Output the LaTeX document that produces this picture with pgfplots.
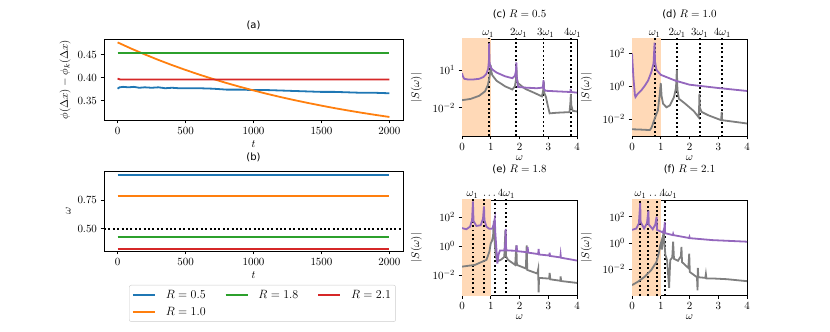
\documentclass[border=0pt]{standalone}
\usepackage{pgfplots}
\pgfplotsset{compat=1.18}
\usepackage{fontspec}
\setmainfont{DejaVu Sans}
\definecolor{tabblue}{HTML}{1F77B4}
\definecolor{taborange}{HTML}{FF7F0E}
\definecolor{tabgreen}{HTML}{2CA02C}
\definecolor{tabred}{HTML}{D62728}
\definecolor{tabpurple}{HTML}{9467BD}
\definecolor{tabgray}{HTML}{7F7F7F}
\colorlet{shade}{taborange!30!white}
\newcommand{\mf}{\fontsize{11.3}{13}\selectfont}
\pgfplotsset{
  base/.style={scale only axis, anchor=south west,
    axis line style={line width=0.8pt}, every tick/.style={line width=0.8pt, black},
    major tick length=3.5pt, minor tick length=0pt, tick align=outside, xtick pos=bottom, ytick pos=left,
    every tick label/.append style={font=\mf},
    label style={font=\mf},
    title style={font=\fontsize{10}{12}\selectfont},
    /pgf/number format/1000 sep={}, scaled ticks=false},
  spec/.style={base, width=115pt, xmin=0, xmax=4, xtick={0,1,2,3,4},
    xlabel={$\omega$}, ylabel={$|S(\omega)|$},
    xlabel style={yshift=1pt}, ylabel style={yshift=4pt}},
  topl/.style={scale only axis, anchor=south west, width=115pt, xmin=0, xmax=4, ymin=0, ymax=1,
    axis x line*=top, axis y line=none, axis line style={draw=none}, major tick length=0pt,
    every tick label/.append style={font=\mf, inner sep=1.5pt}},
  dl/.style={black, line width=1.9pt, dash pattern=on 1.9pt off 2.5pt},
  ln/.style={line width=1.8pt},
}
\begin{document}
\begin{tikzpicture}[font=\fontsize{10}{12}\selectfont]
% ---------------- (a)
\begin{axis}[base, at={(104pt,212pt)}, width=299pt, height=81pt,
  xmin=-100, xmax=2100, ymin=0.3077, ymax=0.4844,
  xtick={0,500,1000,1500,2000}, ytick={0.35,0.40,0.45},
  yticklabel style={/pgf/number format/.cd, fixed, fixed zerofill, precision=2},
  xlabel={$t$}, ylabel={$\phi(\Delta x)-\phi_k(\Delta x)$}, title={(a)}]
\addplot[ln, tabblue] coordinates {(0,0.376) (15,0.379) (40,0.380) (80,0.379) (120,0.380) (160,0.378) (200,0.379) (250,0.378) (300,0.379) (350,0.377) (400,0.378) (450,0.377) (500,0.377) (600,0.377) (700,0.376) (750,0.375) (800,0.374) (900,0.374) (1000,0.373) (1100,0.373) (1200,0.372) (1300,0.371) (1400,0.370) (1500,0.369) (1600,0.369) (1700,0.368) (1800,0.367) (1900,0.367) (2000,0.366)};
\addplot[ln, taborange] coordinates {(0,0.477) (100,0.4635) (200,0.4508) (300,0.4388) (400,0.4275) (500,0.4169) (600,0.4068) (700,0.3974) (800,0.3885) (900,0.3801) (1000,0.3722) (1100,0.3647) (1200,0.3577) (1300,0.3511) (1400,0.3449) (1500,0.3390) (1600,0.3334) (1700,0.3282) (1800,0.3233) (1900,0.3187) (2000,0.3143)};
\addplot[ln, tabgreen] coordinates {(0,0.453) (2000,0.453)};
\addplot[ln, tabred] coordinates {(0,0.398) (20,0.396) (2000,0.396)};
\end{axis}
% ---------------- (b)
\begin{axis}[base, at={(104pt,81pt)}, width=299pt, height=80pt,
  xmin=-100, xmax=2100, ymin=0.304, ymax=1.008,
  xtick={0,500,1000,1500,2000}, ytick={0.50,0.75},
  yticklabel style={/pgf/number format/.cd, fixed, fixed zerofill, precision=2},
  xlabel={$t$}, ylabel={$\omega$}, title={(b)},
  legend columns=3, legend cell align=left,
  legend image code/.code={\draw[#1] (0pt,0pt) -- (22pt,0pt);},
  legend style={at={(0.53,-0.425)}, anchor=north, draw=black!20, rounded corners=2pt,
    fill=white, inner xsep=2.7pt, inner ysep=3pt,
    font=\fontsize{11.5}{13}\selectfont, row sep=3pt,
    nodes={inner sep=2pt},
    /tikz/every odd column/.append style={column sep=8pt},
    /tikz/every even column/.append style={column sep=17pt}}]
\addplot[black, line width=1.9pt, dash pattern=on 1.9pt off 2.5pt, forget plot] coordinates {(-100,0.5) (2100,0.5)};
\addplot[ln, tabblue] coordinates {(0,0.973) (2000,0.973)};
\addlegendentry{$R=0.5$}
\addplot[ln, tabgreen] coordinates {(0,0.426) (2000,0.426)};
\addlegendentry{$R=1.8$}
\addplot[ln, tabred] coordinates {(0,0.324) (2000,0.324)};
\addlegendentry{$R=2.1$}
\addplot[ln, taborange] coordinates {(0,0.788) (2000,0.788)};
\addlegendentry{$R=1.0$}
\end{axis}
% ---------------- (c)
\begin{axis}[spec, ymode=log, at={(462pt,196pt)}, height=97pt, ymin=5.6e-5, ymax=2.95e3,
  ytick={1e-2,1e1}, title={(c) {\mf$R=0.5$}}, title style={yshift=11pt}]
\addplot[fill=shade, draw=none] coordinates {(0,1e-6) (1,1e-6) (1,1e5) (0,1e5)} -- cycle;
\addplot[dl] coordinates {(0.945,1e-6) (0.945,1e5)};
\addplot[dl] coordinates {(1.89,1e-6) (1.89,1e5)};
\addplot[dl] coordinates {(2.835,1e-6) (2.835,1e5)};
\addplot[dl] coordinates {(3.78,1e-6) (3.78,1e5)};
\addplot[ln, tabgray] coordinates {(0,3.98e-2) (0.3,5.01e-2) (0.6,8.91e-2) (0.8,2.00e-1) (0.9,6.31e-1) (0.96,3.16e0) (0.99,1.00e1) (1.0,2.51e1) (1.01,1.00e1) (1.05,3.98e0) (1.2,1.41e0) (1.5,5.01e-1) (1.75,2.82e-1) (1.84,5.01e-1) (1.88,2.00e0) (1.895,1.58e1) (1.91,2.00e0) (1.95,8.91e-1) (2.2,3.16e-1) (2.5,1.58e-1) (2.78,7.94e-2) (2.825,2.51e-1) (2.845,1.26e0) (2.86,1.58e-1) (2.92,7.08e-2) (2.98,1.58e-2) (3.05,3.55e-3) (3.3,3.98e-3) (3.74,4.47e-3) (3.77,2.51e-2) (3.785,1.26e-1) (3.80,1.58e-2) (3.85,5.62e-3) (4.0,5.01e-3)};
\addplot[ln, tabpurple] coordinates {(0,5.62e0) (0.03,3.16e0) (0.08,2.00e0) (0.2,1.78e0) (0.4,1.78e0) (0.6,2.00e0) (0.75,2.82e0) (0.85,5.01e0) (0.91,1.26e1) (0.935,5.01e1) (0.945,1.41e3) (0.955,5.01e1) (0.98,2.00e1) (1.05,1.12e1) (1.2,6.31e0) (1.5,3.16e0) (1.75,2.24e0) (1.84,3.55e0) (1.875,7.94e0) (1.89,3.98e1) (1.90,3.16e0) (1.95,4.47e-1) (2.2,3.98e-1) (2.6,3.55e-1) (2.8,3.98e-1) (2.825,7.08e-1) (2.835,1.58e0) (2.85,3.16e-1) (2.9,2.24e-1) (3.3,2.00e-1) (3.77,1.78e-1) (3.78,3.16e-1) (3.79,1.78e-1) (4.0,1.58e-1)};
\end{axis}
\begin{axis}[topl, at={(462pt,196pt)}, height=97pt, xtick={0.91,1.97,2.91,3.85},
  xticklabels={$\omega_1$,$2\omega_1$,$3\omega_1$,$4\omega_1$}]
\end{axis}
% ---------------- (d)
\begin{axis}[spec, ymode=log, at={(632pt,196pt)}, height=97pt, ymin=9.8e-4, ymax=7.4e2,
  ytick={1e-2,1e0,1e2}, title={(d) {\mf$R=1.0$}}, title style={yshift=11pt}]
\addplot[fill=shade, draw=none] coordinates {(0,1e-6) (1.02,1e-6) (1.02,1e5) (0,1e5)} -- cycle;
\addplot[dl] coordinates {(0.785,1e-6) (0.785,1e5)};
\addplot[dl] coordinates {(1.57,1e-6) (1.57,1e5)};
\addplot[dl] coordinates {(2.355,1e-6) (2.355,1e5)};
\addplot[dl] coordinates {(3.14,1e-6) (3.14,1e5)};
\addplot[ln, tabgray] coordinates {(0,2.51e-3) (0.3,2.40e-3) (0.62,2.24e-3) (0.68,3.16e-3) (0.77,8.91e-3) (0.9,3.55e-2) (0.97,3.98e-1) (1.0,1.58e0) (1.03,2.51e-1) (1.08,8.91e-2) (1.2,5.37e-2) (1.32,7.08e-2) (1.46,2.24e-1) (1.53,7.94e-1) (1.56,1.00e1) (1.58,6.31e-1) (1.63,1.78e-1) (1.85,8.91e-2) (2.15,3.16e-2) (2.32,1.32e-2) (2.335,6.31e-2) (2.345,3.55e-1) (2.36,5.01e-2) (2.42,2.82e-2) (2.65,1.78e-2) (3.1,8.91e-3) (3.12,2.82e-2) (3.135,8.91e-3) (4.0,5.62e-3)};
\addplot[ln, tabpurple] coordinates {(0,1.00e2) (0.05,3.16e0) (0.1,3.16e-1) (0.12,2.24e-1) (0.2,3.55e-1) (0.32,5.62e-1) (0.45,1.12e0) (0.56,2.24e0) (0.68,7.94e0) (0.75,2.51e1) (0.785,4.47e2) (0.80,3.16e1) (0.85,1.00e1) (1.0,5.01e0) (1.5,2.24e0) (2.0,1.26e0) (3.0,7.94e-1) (4.0,5.25e-1)};
\end{axis}
\begin{axis}[topl, at={(632pt,196pt)}, height=97pt, xtick={0.785,1.57,2.355,3.14},
  xticklabels={$\omega_1$,$2\omega_1$,$3\omega_1$,$4\omega_1$}]
\end{axis}
% ---------------- (e)
\begin{axis}[spec, ymode=log, at={(462pt,37pt)}, height=95pt, ymin=4.1e-4, ymax=1.58e3,
  ytick={1e-2,1e0,1e2}, title={(e) {\mf$R=1.8$}}, title style={yshift=17pt}]
\addplot[fill=shade, draw=none] coordinates {(0,1e-6) (1.0,1e-6) (1.0,1e5) (0,1e5)} -- cycle;
\addplot[dl] coordinates {(0.38,1e-6) (0.38,1e5)};
\addplot[dl] coordinates {(0.76,1e-6) (0.76,1e5)};
\addplot[dl] coordinates {(1.14,1e-6) (1.14,1e5)};
\addplot[dl] coordinates {(1.52,1e-6) (1.52,1e5)};
\addplot[ln, tabgray] coordinates {(0,3.80e-2) (0.45,5.01e-2) (0.85,1.12e-1) (0.95,3.98e-1) (1.0,1.58e0) (1.04,2.24e0) (1.08,5.01e0) (1.11,5.62e1) (1.13,3.16e0) (1.17,2.51e-1) (1.22,8.91e-2) (1.35,1.12e-1) (1.47,1.78e-1) (1.51,1.26e1) (1.53,2.00e-1) (1.6,1.12e-1) (1.85,5.01e-2) (1.89,1.12e0) (1.91,5.01e-2) (2.22,2.82e-2) (2.25,1.12e0) (2.27,2.24e-2) (2.62,1.26e-2) (2.65,2.51e-2) (2.665,6.31e-4) (2.68,6.31e-3) (3.03,5.62e-3) (3.05,1.41e-2) (3.07,5.01e-3) (3.42,3.98e-3) (3.43,7.94e-3) (3.45,3.80e-3) (4.0,2.82e-3)};
\addplot[ln, tabpurple] coordinates {(0,1.78e1) (0.15,1.48e1) (0.28,2.24e1) (0.35,6.31e1) (0.38,1.26e3) (0.40,5.62e1) (0.5,2.51e1) (0.65,2.82e1) (0.73,7.94e1) (0.765,5.62e2) (0.78,6.31e1) (0.85,2.24e1) (0.95,1.58e1) (1.05,1.58e1) (1.10,3.16e1) (1.14,7.94e1) (1.16,7.94e0) (1.2,5.01e-1) (1.23,6.31e-2) (1.27,2.51e-1) (1.32,5.01e-1) (1.48,5.01e-1) (1.51,1.58e0) (1.52,1.58e1) (1.535,6.31e-1) (1.56,5.01e-1) (1.88,4.79e-1) (1.90,1.12e0) (1.915,4.47e-1) (2.27,3.80e-1) (2.285,8.91e-1) (2.30,3.55e-1) (2.65,2.82e-1) (2.665,6.31e-1) (2.68,2.63e-1) (3.04,2.24e-1) (3.05,3.55e-1) (3.06,2.09e-1) (3.42,1.66e-1) (3.43,2.51e-1) (3.44,1.58e-1) (4.0,1.00e-1)};
\end{axis}
\begin{axis}[topl, at={(462pt,37pt)}, height=95pt, xtick={0.365,0.957,1.54},
  xticklabels={$\omega_1$,$\cdots$,$4\omega_1$}]
\end{axis}
% ---------------- (f)
\begin{axis}[spec, ymode=log, at={(632pt,37pt)}, height=95pt, ymin=1.12e-4, ymax=1.86e3,
  ytick={1e-2,1e0,1e2}, title={(f) {\mf$R=2.1$}}, title style={yshift=17pt}]
\addplot[fill=shade, draw=none] coordinates {(0,1e-6) (1.0,1e-6) (1.0,1e5) (0,1e5)} -- cycle;
\addplot[dl] coordinates {(0.285,1e-6) (0.285,1e5)};
\addplot[dl] coordinates {(0.57,1e-6) (0.57,1e5)};
\addplot[dl] coordinates {(0.855,1e-6) (0.855,1e5)};
\addplot[dl] coordinates {(1.14,1e-6) (1.14,1e5)};
\addplot[ln, tabgray] coordinates {(0,6.31e-4) (0.2,1.12e-3) (0.45,2.82e-3) (0.67,8.91e-3) (0.85,3.55e-2) (0.93,1.58e-1) (0.98,6.31e-1) (1.02,1.26e0) (1.04,3.16e-1) (1.07,2.00e0) (1.1,8.91e0) (1.12,1.58e0) (1.16,1.26e-1) (1.22,5.01e-2) (1.29,3.98e-4) (1.33,5.01e-2) (1.40,7.94e-2) (1.43,1.26e0) (1.46,6.31e-2) (1.6,4.47e-2) (1.70,1.00e-1) (1.72,5.01e-1) (1.74,3.55e-2) (1.96,1.26e-2) (1.99,1.58e-1) (2.01,6.31e-3) (2.26,2.51e-3) (2.28,2.51e-4) (2.29,1.26e-2) (2.31,2.51e-3) (2.55,2.24e-3) (2.57,4.47e-3) (2.59,2.00e-3) (2.85,2.00e-3) (3.3,1.78e-3) (4.0,1.26e-3)};
\addplot[ln, tabpurple] coordinates {(0,1.00e1) (0.15,1.26e1) (0.24,3.16e1) (0.285,1.12e3) (0.30,3.98e1) (0.42,1.26e1) (0.52,3.16e1) (0.57,2.82e2) (0.585,2.51e1) (0.72,1.12e1) (0.81,2.51e1) (0.855,1.00e2) (0.87,1.00e1) (1.08,6.31e0) (1.13,1.58e1) (1.14,3.98e1) (1.15,5.62e0) (1.42,3.98e0) (1.43,4.79e0) (1.44,3.98e0) (1.99,2.40e0) (2.0,2.82e0) (2.01,2.34e0) (2.8,1.66e0) (4.0,1.26e0)};
\end{axis}
\begin{axis}[topl, at={(632pt,37pt)}, height=95pt, xtick={0.296,0.817,1.27},
  xticklabels={$\omega_1$,$\cdots$,$4\omega_1$}]
\end{axis}
\pgfresetboundingbox
\path[use as bounding box] (0,0) rectangle (830pt,332pt);
\end{tikzpicture}
\end{document}
